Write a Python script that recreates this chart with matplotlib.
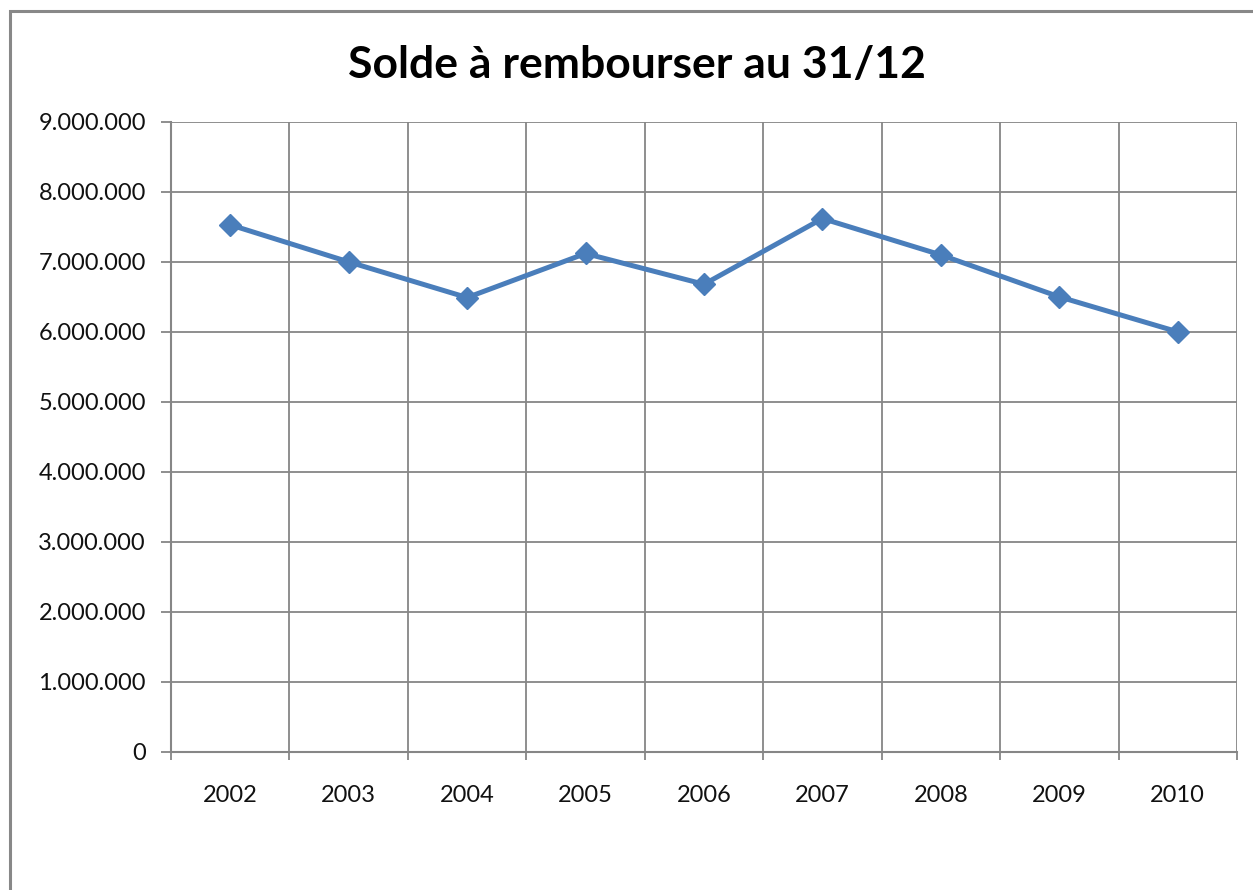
import matplotlib
matplotlib.use("Agg")
import matplotlib.pyplot as plt
import matplotlib.patches as patches
from matplotlib.ticker import FuncFormatter
import numpy as np

title = "Solde à rembourser au 31/12"
years = ["2002", "2003", "2004", "2005", "2006", "2007", "2008", "2009", "2010"]
values = [7530000, 7000000, 6490000, 7120000, 6680000, 7620000, 7100000, 6500000, 6000000]
y_ticks = [0, 1000000, 2000000, 3000000, 4000000, 5000000, 6000000, 7000000, 8000000, 9000000]

plt.rcParams['font.family'] = ['Lato', 'DejaVu Sans']

W, H = 1253, 890
fig = plt.figure(figsize=(W / 100, H / 100), dpi=100)
fig.patch.set_facecolor('white')

# outer chart frame (extends past right/bottom edges)
frame = patches.Rectangle((10 / W, -0.2), 1.3, 1 - 11 / H + 0.2, transform=fig.transFigure,
                          fill=False, edgecolor='#888888', linewidth=2.2, clip_on=False)
fig.patches.append(frame)

ax = fig.add_axes([171 / W, 1 - 751.5 / H, (1237 - 171) / W, (751.5 - 122) / H])
grid_c = '#868686'

x = np.arange(len(years))
ax.plot(x, values, color='#4A7EBB', linewidth=3.6, marker='D', markersize=11,
        markerfacecolor='#4A7EBB', markeredgecolor='#4A7EBB', zorder=5, clip_on=False)

ax.set_xlim(-0.5, len(years) - 0.5)
ax.set_ylim(0, 9000000)

ax.set_xticks(np.arange(-0.5, len(years), 1.0))
ax.set_xticklabels([''] * (len(years) + 1))
ax.set_xticks(x, minor=True)
ax.set_xticklabels(years, minor=True)
ax.tick_params(axis='x', which='minor', length=0, pad=24, labelsize=17, colors='#111111')
ax.tick_params(axis='x', which='major', length=6, width=1.3, color=grid_c, direction='out')

ax.set_yticks(y_ticks)
ax.yaxis.set_major_formatter(FuncFormatter(lambda v, p: f"{int(v):,}".replace(',', '.')))
ax.tick_params(axis='y', length=7, width=1.3, color=grid_c, direction='out', pad=11,
               labelsize=17, labelcolor='#111111')

ax.grid(True, which='major', axis='both', color=grid_c, linewidth=1.3)
ax.set_axisbelow(True)
for s in ['top', 'right']:
    ax.spines[s].set_visible(False)
for s in ['left', 'bottom']:
    ax.spines[s].set_color(grid_c)
    ax.spines[s].set_linewidth(1.5)

fig.text(0.5085, 1 - 65 / H, title, ha='center', va='center', fontsize=32, fontweight='bold')

fig.savefig('out.png', dpi=100, facecolor='white')
